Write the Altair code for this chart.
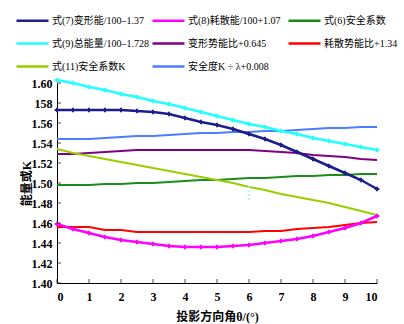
import altair as alt
import pandas as pd

# ---------------- data ----------------
theta = [0, 0.5, 1, 1.5, 2, 2.5, 3, 3.5, 4, 4.5, 5, 5.5, 6, 6.5, 7, 7.5, 8, 8.5, 9, 9.5, 10]

s7 = "式(7)变形能/100–1.37"
s8 = "式(8)耗散能/100+1.07"
s6 = "式(6)安全系数"
s9 = "式(9)总能量/100–1.728"
sp = "变形势能比+0.645"
sr = "耗散势能比+1.34"
s11 = "式(11)安全系数K"
sb = "安全度K ÷ λ+0.008"

series_names = [s7, s8, s6, s9, sp, sr, s11, sb]
series_colors = ["#1c1c8c", "#ff00ff", "#1a8c1a", "#22ffff", "#800080", "#ff0000", "#9acd00", "#4a7dff"]
marked_series = [s7, s8, s9]

v7 = [1.573, 1.573, 1.573, 1.573, 1.573, 1.572, 1.571, 1.569, 1.565, 1.561, 1.558, 1.554, 1.549,
      1.544, 1.538, 1.531, 1.524, 1.517, 1.510, 1.503, 1.494]
v8 = [1.459, 1.454, 1.450, 1.446, 1.443, 1.441, 1.439, 1.437, 1.436, 1.436, 1.436, 1.437, 1.438,
      1.440, 1.442, 1.444, 1.447, 1.451, 1.455, 1.460, 1.467]
v6 = [1.498, 1.498, 1.498, 1.499, 1.499, 1.500, 1.500, 1.501, 1.502, 1.503, 1.503, 1.504, 1.505,
      1.505, 1.506, 1.507, 1.507, 1.508, 1.508, 1.509, 1.509]
v9 = [1.603, 1.600, 1.596, 1.593, 1.589, 1.586, 1.582, 1.579, 1.575, 1.571, 1.567, 1.563, 1.559,
      1.556, 1.552, 1.549, 1.545, 1.542, 1.539, 1.536, 1.533]
vp = [1.529, 1.529, 1.530, 1.531, 1.532, 1.533, 1.533, 1.533, 1.533, 1.533, 1.533, 1.533, 1.533,
      1.532, 1.531, 1.530, 1.528, 1.527, 1.526, 1.524, 1.523]
vr = [1.456, 1.456, 1.456, 1.453, 1.453, 1.451, 1.451, 1.451, 1.451, 1.451, 1.451, 1.451, 1.451,
      1.452, 1.452, 1.454, 1.455, 1.456, 1.458, 1.460, 1.461]
v11 = [1.534, 1.530, 1.527, 1.524, 1.521, 1.518, 1.515, 1.512, 1.509, 1.506, 1.503, 1.500, 1.496,
       1.493, 1.489, 1.486, 1.483, 1.480, 1.476, 1.472, 1.468]
vb = [1.544, 1.544, 1.544, 1.545, 1.546, 1.547, 1.547, 1.548, 1.549, 1.550, 1.550, 1.551, 1.551,
      1.552, 1.552, 1.553, 1.554, 1.555, 1.555, 1.556, 1.556]

series_values = [v7, v8, v6, v9, vp, vr, v11, vb]

# stray dotted cyan segment in the reference at theta = 6
stray_x = [6]
stray_y = [1.497]
stray_y2 = [1.483]

x_ticks = [0, 1, 2, 3, 4, 5, 6, 7, 8, 9, 10]
y_ticks = [1.40, 1.42, 1.44, 1.46, 1.48, 1.50, 1.52, 1.54, 1.56, 1.58, 1.60]
y_tick_labels = ["1.40", "1.42", "1.44", "1.46", "1.48", "1.50", "1.52", "1.54", "1.56", "158", "1.60"]

# ---------------- build table ----------------
rows = []
for name, vals in zip(series_names, series_values):
    for t, v in zip(theta, vals):
        rows.append({"theta": t, "value": v, "series": name})
df = pd.DataFrame(rows)
df_plain = df[~df["series"].isin(marked_series)]
df_marked = df[df["series"].isin(marked_series)]

label_expr = "".join(
    f"abs(datum.value - {v}) < 1e-6 ? '{l}' : " for v, l in zip(y_ticks, y_tick_labels)
) + "''"

SERIF = "Liberation Serif, Noto Sans CJK SC"

x_scale = alt.Scale(domain=[0, 10], nice=False, zero=False)
y_scale = alt.Scale(domain=[1.40, 1.60], nice=False, zero=False)

color = alt.Color(
    "series:N",
    scale=alt.Scale(domain=series_names, range=series_colors),
    sort=series_names,
    legend=alt.Legend(
        title=None,
        orient="none",
        direction="horizontal",
        legendX=-42,
        legendY=-80,
        columns=3,
        gridAlign="all",
        columnPadding=-2,
        rowPadding=-3,
        symbolType="stroke",
        symbolSize=1024,
        symbolStrokeWidth=2.5,
        labelFont=SERIF,
        labelFontSize=10,
        labelColor="#000000",
        labelOffset=2,
        labelLimit=300,
    ),
)

x_axis = alt.Axis(
    values=x_ticks,
    title="投影方向角θ/(°)",
    format="d",
    tickSize=0,
    labelPadding=8,
    titlePadding=9,
    labelOverlap=False,
)
y_axis = alt.Axis(
    values=y_ticks,
    title="能量或K",
    labelExpr=label_expr,
    tickSize=0,
    labelPadding=5,
    titlePadding=-2,
    labelOverlap=False,
)

xs = alt.X("theta:Q", scale=x_scale, axis=x_axis)
ys = alt.Y("value:Q", scale=y_scale, axis=y_axis)

plain = alt.Chart(df_plain).mark_line(strokeWidth=2).encode(
    x=xs, y=ys, color=color
)
marked_line = alt.Chart(df_marked).mark_line(strokeWidth=2.5).encode(
    x=xs, y=ys, color=alt.Color("series:N")
)
marked_pts = alt.Chart(df_marked).mark_point(shape="cross", filled=True, size=22, opacity=1).encode(
    x=xs, y=ys, color=alt.Color("series:N")
)

stray = alt.Chart(pd.DataFrame({"theta": stray_x, "value": stray_y, "y2": stray_y2})).mark_rule(
    color="#88ffff", strokeDash=[2, 2], strokeWidth=1.5
).encode(x=xs, y=ys, y2="y2:Q")

xt = alt.Chart(pd.DataFrame({"theta": x_ticks})).mark_tick(
    orient="vertical", size=4, thickness=1, color="#000000"
).encode(x=xs, y=alt.value(198))
yt = alt.Chart(pd.DataFrame({"value": y_ticks})).mark_tick(
    orient="horizontal", size=4, thickness=1, color="#000000"
).encode(y=ys, x=alt.value(2))

chart = (
    alt.layer(plain, stray, marked_line, marked_pts, xt, yt)
    .properties(
        width=320,
        height=200,
        autosize=alt.AutoSizeParams(type="none"),
        padding={"left": 57, "top": 83, "right": 27, "bottom": 41},
        background="white",
    )
    .configure_view(stroke=None)
    .configure_axis(
        grid=False,
        labelOverlap=False,
        domainColor="#000000",
        domainWidth=1,
        labelFont="Liberation Serif",
        labelFontSize=12,
        labelFontWeight="bold",
        labelColor="#000000",
        titleFont=SERIF,
        titleFontSize=12,
        titleFontWeight="bold",
        titleColor="#000000",
    )
)

chart.save("out.html", embed_options={"renderer": "svg", "actions": False})
